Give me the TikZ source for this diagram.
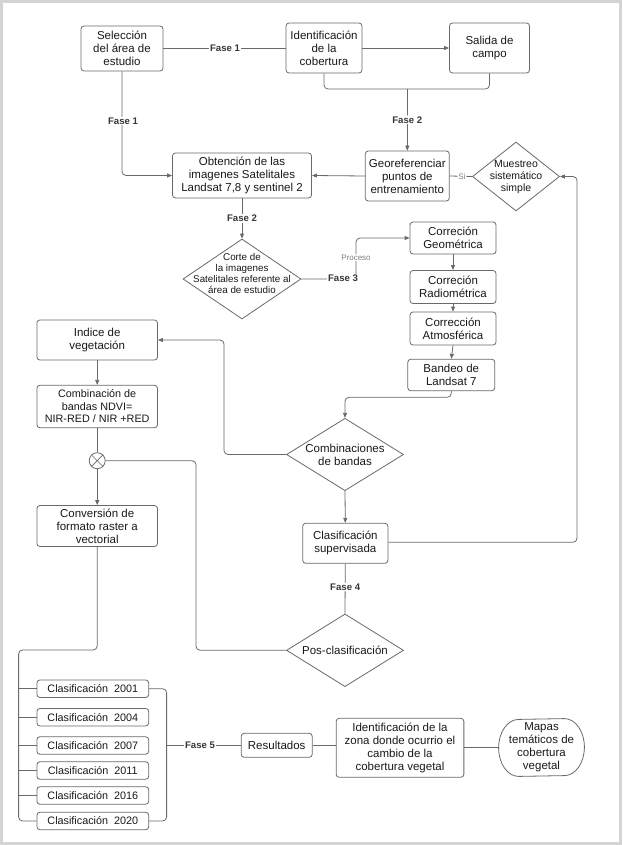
\documentclass[tikz,border=0pt]{standalone}
\usepackage{fontspec}
\setmainfont{Liberation Sans}
\usetikzlibrary{shapes.geometric,arrows.meta}
\definecolor{linec}{RGB}{105,105,105}
\definecolor{txtc}{RGB}{25,25,25}
\definecolor{fasec}{RGB}{55,55,55}
\definecolor{framec}{RGB}{212,212,212}
\begin{document}
\begin{tikzpicture}[x=1pt,y=-1pt,
  box/.style={draw=linec, line width=0.8pt, rounded corners=3pt, fill=white, align=center,
    inner sep=0pt, text=txtc, font=\fontsize{11.5}{13}\selectfont},
  smallbox/.style={box, font=\fontsize{10.8}{12.5}\selectfont},
  dia/.style={draw=linec, line width=0.8pt, diamond, inner sep=0pt, fill=white},
  diatext/.style={align=center, inner sep=0pt, text=txtc, font=\fontsize{11.5}{13}\selectfont},
  conn/.style={draw=linec, line width=0.8pt, rounded corners=4pt},
  arr/.style={conn, -{Triangle[length=5pt,width=4pt]}},
  fase/.style={fill=white, inner sep=1pt, text=fasec, font=\fontsize{9.6}{11}\bfseries\selectfont},
  tiny/.style={fill=white, inner sep=1pt, text=gray, font=\fontsize{8}{9}\selectfont}
]
\useasboundingbox (0,0) rectangle (622,845);
\draw[framec, line width=3pt] (1.5,1.5) rectangle (620.5,843.5);

% top row
\node[box, minimum width=82pt, minimum height=45pt] (sel) at (122,48.5) {Selección\\del área de\\estudio};
\node[box, minimum width=76pt, minimum height=50pt] (ident) at (324,48) {Identificación\\de la\\cobertura};
\node[box, minimum width=80pt, minimum height=50pt] (salida) at (489.5,48) {Salida de\\campo};

\node[box, minimum width=139pt, minimum height=45pt] (obt) at (242,175.5) {Obtención de las\\imagenes Satelitales\\Landsat 7,8 y sentinel 2};
\node[box, minimum width=84pt, minimum height=50pt] (geo) at (407.3,176) {Georeferenciar\\puntos de\\entrenamiento};
\node[dia, minimum width=87pt, minimum height=69pt] (mues) at (516,176.5) {};
\node[diatext, font=\fontsize{10.5}{12}\selectfont] (muest) at (mues) {Muestreo\\sistemático\\simple};

\node[dia, minimum width=118pt, minimum height=80pt] (corte) at (242,279) {};
\node[diatext, font=\fontsize{9.8}{11}\selectfont] (cortet) at (242,273.3) {Corte de\\la imagenes\\Satelitales referente al\\área de estudio};

\node[box, minimum width=86pt, minimum height=32pt] (cgeo) at (453,238) {Correción\\Geométrica};
\node[box, minimum width=86pt, minimum height=33pt] (crad) at (453,287) {Correción\\Radiométrica};
\node[box, minimum width=86pt, minimum height=33pt] (catm) at (453,328.5) {Corrección\\Atmosférica};
\node[box, minimum width=87pt, minimum height=31.5pt] (band) at (451.3,375) {Bandeo de\\Landsat 7};

% left column
\node[box, minimum width=120.6pt, minimum height=40pt] (indice) at (97.2,340) {Indice de\\vegetación};
\node[smallbox, minimum width=120.6pt, minimum height=42.4pt] (ndvi) at (97.2,406.5) {Combinación de\\bandas NDVI=\\NIR-RED / NIR +RED};
\node[draw=linec, line width=0.8pt, circle, minimum size=16pt, inner sep=0pt, fill=white] (circ) at (97.2,460.7) {};
\draw[linec, line width=0.7pt] (circ.north west) -- (circ.south east) (circ.north east) -- (circ.south west);
\node[box, minimum width=120.6pt, minimum height=41pt] (conv) at (97.2,526) {Conversión de\\formato raster a\\vectorial};

% middle
\node[dia, minimum width=117pt, minimum height=72.4pt] (comb) at (345,454.5) {};
\node[diatext] (combt) at (comb) {Combinaciones\\de bandas};
\node[box, minimum width=85.3pt, minimum height=40pt] (clas) at (345.3,543.3) {Clasificación\\supervisada};
\node[dia, minimum width=117pt, minimum height=72.7pt] (pos) at (345,650.3) {};
\node[diatext] (post) at (pos) {Pos-clasificación};

% classification years
\foreach \n/\yy/\lab in {c1/688.7/2001, c2/717.2/2004, c3/745.5/2007, c4/770.5/2011, c5/795.5/2016, c6/821/2020}{
  \node[smallbox, minimum width=111.8pt, minimum height=17.5pt] (\n) at (92.8,\yy) {Clasificación\ \ \lab};
}

% results
\node[box, minimum width=71pt, minimum height=24pt] (res) at (276.7,745.3) {Resultados};
\node[box, minimum width=127.7pt, minimum height=59pt] (zona) at (400,747.8) {Identificación de la\\zona donde ocurrio el\\cambio de la\\cobertura vegetal};
\node[box, draw=none, fill=none, minimum width=85pt, minimum height=57pt] (mapas) at (541.5,747.5) {Mapas\\temáticos de\\cobertura\\vegetal};
\draw[linec, line width=0.8pt] ([xshift=-20pt]mapas.north east) arc[start angle=90, end angle=-90, x radius=20pt, y radius=28.5pt]
  -- ([xshift=20pt]mapas.south west) arc[start angle=270, end angle=90, x radius=20pt, y radius=28.5pt] -- cycle;

% ---- connectors ----
\draw[conn] (sel.east) -- (sel.east -| ident.west);
\node[fase] (f1a) at (225,48.5) {Fase 1};
\draw[arr] (ident.east) -- (salida.west);
\coordinate (brk) at (407.3,89);
\draw[conn] (ident.south) |- (brk) -| (salida.south);
\draw[arr] (brk) -- (geo.north) node[fase, pos=0.5] (f2a) {Fase 2};
\draw[arr] (sel.south) |- (obt.west);
\node[fase] (f1b) at (123,121) {Fase 1};
\draw[arr] (geo.west) -- (obt.east);
\draw[conn] (mues.west) -- (geo.east) node[tiny, pos=0.45] (si) {Si};

\draw[arr] (obt.south) -- (corte.north) node[fase, pos=0.5] (f2b) {Fase 2};
\coordinate (p3) at (356,279);
\draw[arr] (corte.east) -- (p3) |- (cgeo.west);
\node[tiny] (proc) at (356,257.5) {Proceso};
\node[fase] (f3) at (343,278.5) {Fase 3};

\draw[arr] (cgeo.south) -- (crad.north);
\draw[arr] (crad.south) -- (catm.north);
\draw[arr] (catm.south) -- (band.north);
\coordinate (p4) at (451.3,397.3);
\draw[arr] (band.south) -- (p4) -| (comb.north);

\coordinate (p5) at (224,454.5);
\draw[arr] (comb.west) -- (p5) |- (indice.east);
\draw[arr] (indice.south) -- (ndvi.north);
\draw[conn] (ndvi.south) -- (circ.north);
\draw[arr] (circ.south) -- (conv.north);
\coordinate (p6) at (196,460.7);
\draw[conn] (circ.east) -- (p6) |- (pos.west);

\draw[arr] (comb.south) -- (clas.north);
\coordinate (p7) at (577,542.3);
\draw[arr] (clas.east |- p7) -- (p7) |- (mues.east);
\draw[conn] (clas.south) -- (pos.north) node[fase, pos=0.47] (f4) {Fase 4};

% left bracket
\coordinate (p8) at (97.2,650);
\coordinate (lb) at (18.6,650);
\draw[conn] (conv.south) -- (p8) -- (lb) |- (c6.west);
\foreach \n in {c1,c2,c3,c4,c5}{
  \draw[conn] (lb |- \n.west) -- (\n.west);
}
% right bracket
\coordinate (rb) at (166.6,745);
\draw[conn] (c1.east) -| (rb) |- (c6.east);
\draw[conn] (rb) -- (rb -| res.west) node[fase, pos=0.45] (f5) {Fase 5};
\draw[conn] (res.east) -- (res.east -| zona.west);
\draw[conn] (zona.east) -- (zona.east -| mapas.west);
\end{tikzpicture}
\end{document}
